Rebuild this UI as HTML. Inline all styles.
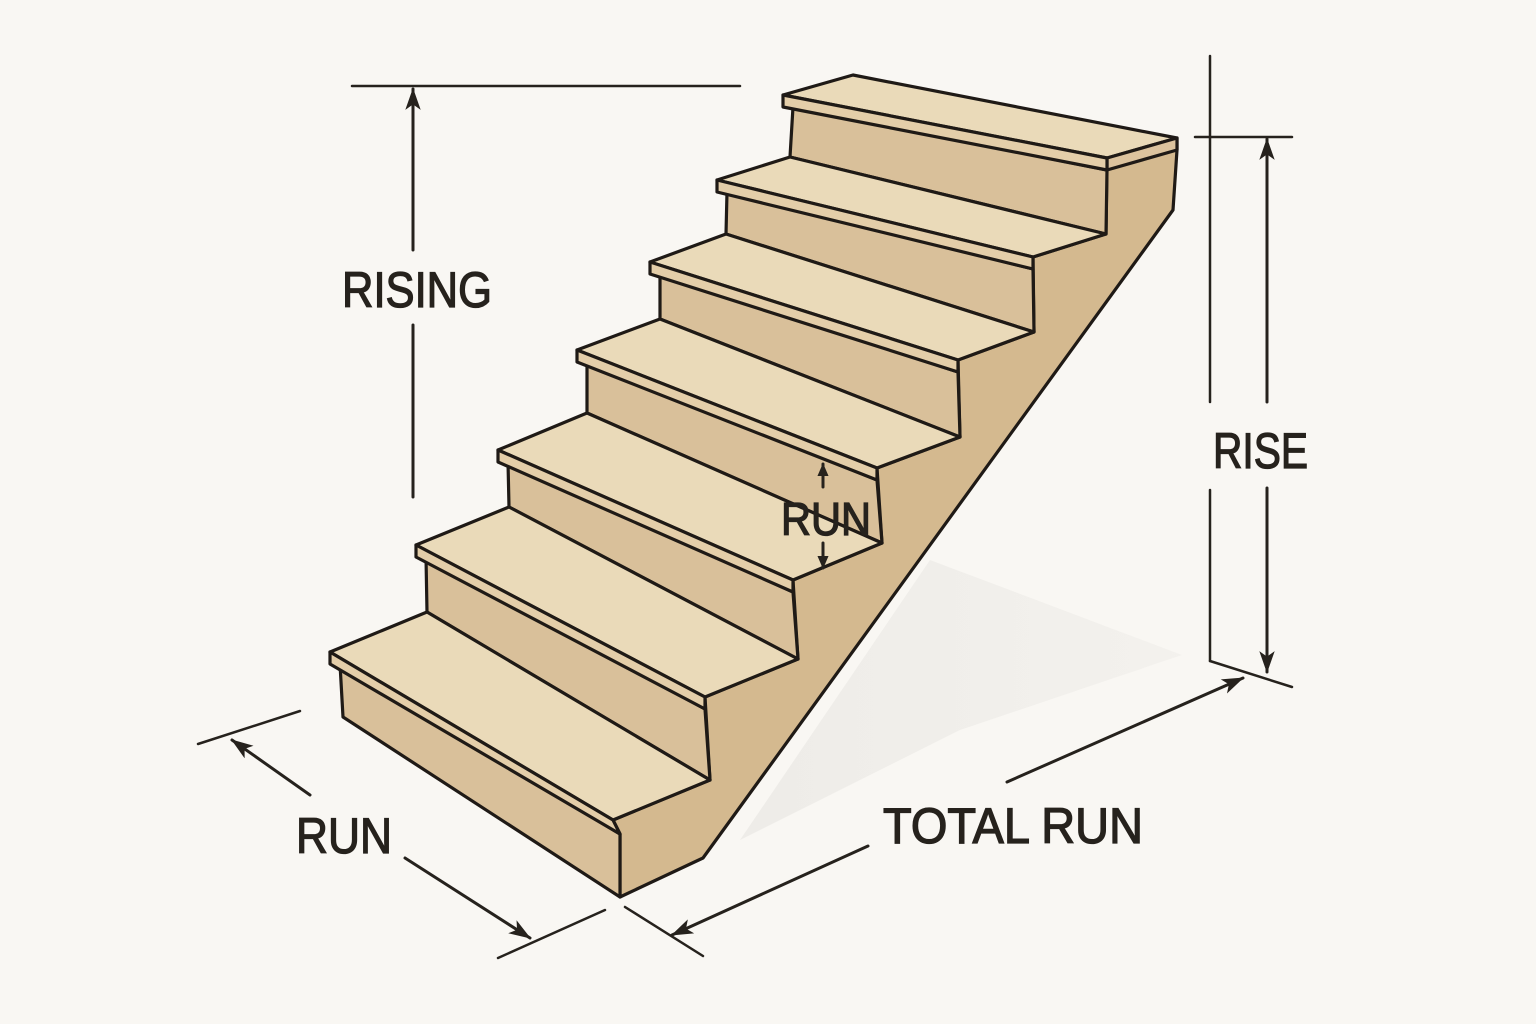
<!DOCTYPE html>
<html><head><meta charset="utf-8"><style>
html,body{margin:0;padding:0;background:#f9f7f3}
svg{display:block}
text{font-family:"Liberation Sans",sans-serif;fill:#26221d;stroke:#26221d;stroke-width:1.3}
</style></head><body>
<svg width="1536" height="1024" viewBox="0 0 1536 1024" xmlns="http://www.w3.org/2000/svg">
<defs>
<marker id="ah" viewBox="0 0 20 14" refX="19" refY="7" markerWidth="22" markerHeight="16" markerUnits="userSpaceOnUse" orient="auto">
<path d="M0,0 L20,7 L0,14 L5,7 Z" fill="#26221d"/>
</marker>
<marker id="as" viewBox="0 0 14 12" refX="13" refY="6" markerWidth="13" markerHeight="12" markerUnits="userSpaceOnUse" orient="auto">
<path d="M0,0 L14,6 L0,12 Z" fill="#26221d"/>
</marker>
<linearGradient id="sh" x1="0" y1="0" x2="1" y2="0">
<stop offset="0" stop-color="#ebe9e5"/><stop offset="1" stop-color="#f2f0ec"/>
</linearGradient>
</defs>
<rect width="1536" height="1024" fill="#f9f7f3"/>
<polygon points="930,560 1182,655 960,730 740,840" fill="url(#sh)" opacity="0.8"/>
<g stroke="#1f1a16" stroke-width="3.2" stroke-linejoin="round">
<polygon points="1107,158 1177,138 1177,150 1173,210 703,858 620,897 620,834 613,820 710,780 705,697 798,659 793,580 882,543 877,468 960,437 958,360 1034,332 1033,257 1106,234" fill="#d4b98f"/>
<polygon points="793,107 1107,170 1106,234 790,157" fill="#d9c09a"/>
<polygon points="783,95 853,75 1177,138 1107,158" fill="#eadab9"/>
<polygon points="1107,158 1177,138 1177,150 1107,170" fill="#dcc39e"/>
<polygon points="783,95 1107,158 1107,170 783,107" fill="#e4cea9"/>
<polygon points="727,192 1033,269 1034,332 726,234" fill="#d9c09a"/>
<polygon points="717,180 790,157 1106,234 1033,257" fill="#eadab9"/>
<polygon points="717,180 1033,257 1033,269 717,192" fill="#e4cea9"/>
<polygon points="660,274 958,372 960,437 660,319" fill="#d9c09a"/>
<polygon points="650,262 726,234 1034,332 958,360" fill="#eadab9"/>
<polygon points="650,262 958,360 958,372 650,274" fill="#e4cea9"/>
<polygon points="587,362 877,480 882,543 587,413" fill="#d9c09a"/>
<polygon points="577,350 660,319 960,437 877,468" fill="#eadab9"/>
<polygon points="577,350 877,468 877,480 577,362" fill="#e4cea9"/>
<polygon points="508,462 793,592 798,659 509,507" fill="#d9c09a"/>
<polygon points="498,450 587,413 882,543 793,580" fill="#eadab9"/>
<polygon points="498,450 793,580 793,592 498,462" fill="#e4cea9"/>
<polygon points="426,557 705,709 710,780 427,612" fill="#d9c09a"/>
<polygon points="416,545 509,507 798,659 705,697" fill="#eadab9"/>
<polygon points="416,545 705,697 705,709 416,557" fill="#e4cea9"/>
<polygon points="340,664 620,834 620,897 343,717" fill="#d9c09a"/>
<polygon points="330,652 427,612 710,780 613,820" fill="#eadab9"/>
<polygon points="330,652 613,820 620,834 330,664" fill="#e4cea9"/>
</g>
<g stroke="#26221d" stroke-width="3" fill="none" stroke-linecap="round">
<line x1="352" y1="86" x2="740" y2="86" stroke-width="2.5"/>
<line x1="413" y1="250" x2="413" y2="89" marker-end="url(#ah)"/>
<line x1="413" y1="325" x2="413" y2="497"/>
<line x1="1210" y1="56" x2="1210" y2="402" stroke-width="2.5"/>
<line x1="1210" y1="490" x2="1210" y2="661" stroke-width="2.5"/>
<line x1="1195" y1="137" x2="1292" y2="137" stroke-width="2.5"/>
<line x1="1210" y1="661" x2="1292" y2="687" stroke-width="2.5"/>
<line x1="1267" y1="402" x2="1267" y2="139" marker-end="url(#ah)"/>
<line x1="1267" y1="488" x2="1267" y2="672" marker-end="url(#ah)"/>
<line x1="1007" y1="782" x2="1243" y2="678" marker-end="url(#ah)"/>
<line x1="868" y1="846" x2="672" y2="935" marker-end="url(#ah)"/>
<line x1="625" y1="907" x2="703" y2="956" stroke-width="2.5"/>
<line x1="198" y1="744" x2="300" y2="711" stroke-width="2.5"/>
<line x1="310" y1="795" x2="232" y2="740" marker-end="url(#ah)"/>
<line x1="405" y1="858" x2="530" y2="938" marker-end="url(#ah)"/>
<line x1="498" y1="958" x2="605" y2="910" stroke-width="2.5"/>
<line x1="823" y1="487" x2="823" y2="464" marker-end="url(#as)"/>
<line x1="823" y1="543" x2="823" y2="568" marker-end="url(#as)"/>
</g>
<text x="342" y="307" font-size="50" textLength="150" lengthAdjust="spacingAndGlyphs">RISING</text>
<text x="1213" y="468" font-size="50" textLength="95" lengthAdjust="spacingAndGlyphs">RISE</text>
<text x="296" y="853" font-size="50" textLength="96" lengthAdjust="spacingAndGlyphs">RUN</text>
<text x="883" y="843" font-size="50" textLength="260" lengthAdjust="spacingAndGlyphs">TOTAL RUN</text>
<text x="781" y="535" font-size="46" textLength="90" lengthAdjust="spacingAndGlyphs">RUN</text>
</svg>
</body></html>
